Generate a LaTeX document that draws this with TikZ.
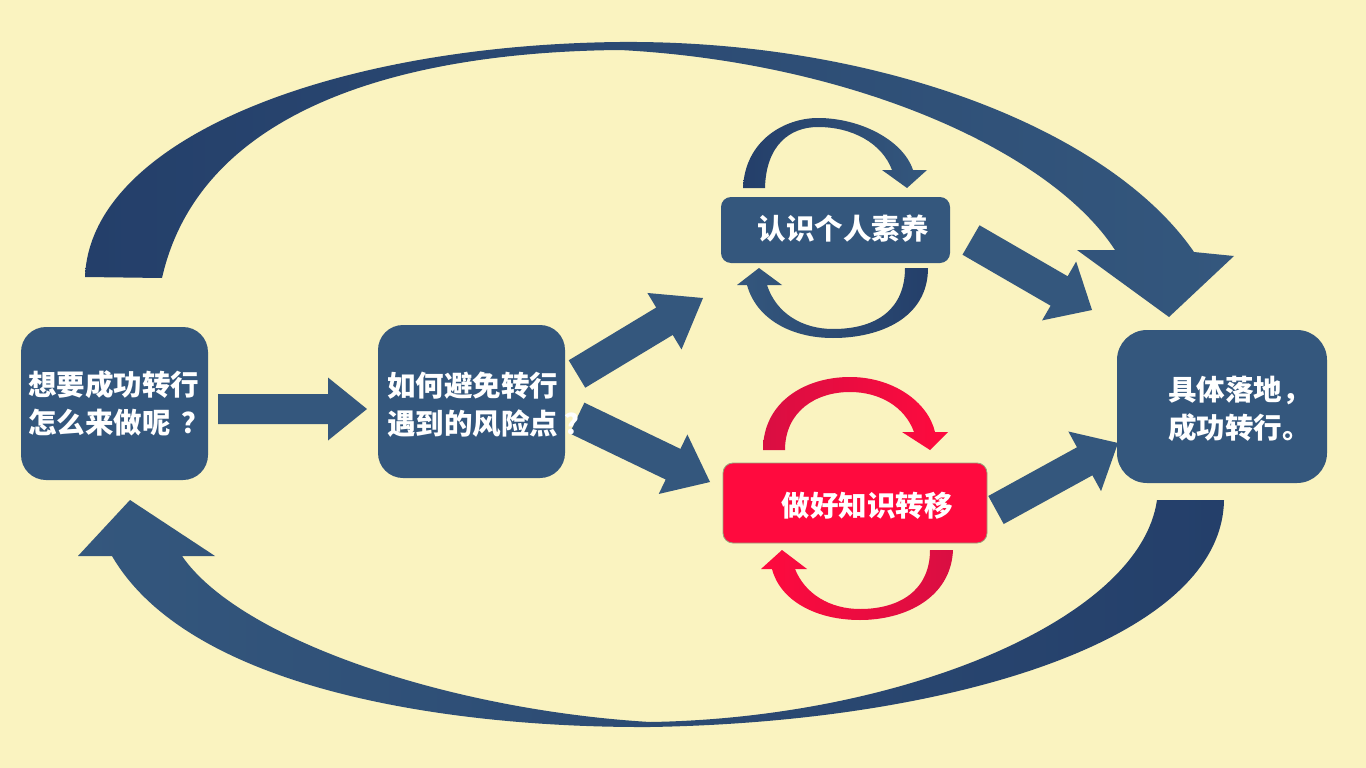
\documentclass[tikz,border=0pt]{standalone}
\usepackage{fontspec}
\newfontfamily\cjk{Noto Sans CJK SC}
\usetikzlibrary{calc}
\definecolor{bg}{HTML}{FAF3C0}
\definecolor{nodeblue}{HTML}{34577D}
\definecolor{arcdark}{HTML}{243F6A}
\definecolor{hotred}{HTML}{FF0A3E}
\definecolor{deepred}{HTML}{D90E42}
\definecolor{redborder}{HTML}{9AA27A}
\newcommand\blockarrow[6]{%
  \coordinate (ba-b) at ($(#3)!#6!(#2)$);
  \fill[#1] ($(#2)!#4!90:(#3)$) -- ($(ba-b)!#4!-90:(#2)$) -- ($(ba-b)!#5!-90:(#2)$)
    -- (#3) -- ($(ba-b)!#5!90:(#2)$) -- ($(ba-b)!#4!90:(#2)$) -- ($(#2)!#4!-90:(#3)$) -- cycle;}
\tikzset{
  box/.style={fill=nodeblue, rounded corners=#1, inner sep=0pt, outer sep=0pt},
  redbox/.style={fill=hotred, draw=redborder, line width=0.8pt, rounded corners=10pt, inner sep=0pt, outer sep=0pt},
  txt/.style={text=white, font=\cjk\bfseries\fontsize{28.5}{38}\selectfont, inner sep=0pt, align=left},
  flow/.style={fill=nodeblue}
}
\begin{document}
\begin{tikzpicture}[x=1pt,y=-1pt]
\useasboundingbox (0,0) rectangle (1366,768);
\fill[bg] (0,0) rectangle (1366,768);

% big top arc
\shade[left color=arcdark, right color=nodeblue]
  (85,277) .. controls (90,140) and (330,45) .. (620,42)
  .. controls (880,40) and (1110,130) .. (1194,252)
  -- (1234,256) -- (1169,317) -- (1077,250) -- (1115,250)
  .. controls (1050,150) and (850,62) .. (620,50)
  .. controls (400,52) and (200,110) .. (162,278) -- cycle;
% big bottom arc
\shade[left color=nodeblue, right color=arcdark]
  (1157,500) .. controls (1140,620) and (900,718) .. (650,722)
  .. controls (450,710) and (240,640) .. (182,556)
  -- (215,556) -- (130,500) -- (78,556) -- (112,556)
  .. controls (190,690) and (450,728) .. (650,727)
  .. controls (950,722) and (1222,640) .. (1224,500) -- cycle;

% small blue loops around C
\shade[left color=arcdark, right color=nodeblue]
  (743,188) .. controls (745,140) and (785,118) .. (818,118)
  .. controls (860,118) and (903,140) .. (913,170)
  -- (927,170) -- (907,188) -- (882,170) -- (892,170)
  .. controls (882,143) and (852,127) .. (818,127)
  .. controls (790,127) and (766,145) .. (765,188) -- cycle;
\shade[left color=nodeblue, right color=arcdark]
  (928,268) .. controls (928,318) and (880,338) .. (833,338)
  .. controls (790,338) and (756,318) .. (747,285)
  -- (737,285) -- (759,268) -- (782,285) -- (767,285)
  .. controls (776,313) and (802,329) .. (833,329)
  .. controls (878,329) and (905,308) .. (905,268) -- cycle;

% red loops around D
\shade[left color=deepred, right color=hotred]
  (763,450) .. controls (763,402) and (805,377) .. (850,377)
  .. controls (893,377) and (928,402) .. (935,432)
  -- (948,432) -- (930,450) -- (902,432) -- (914,432)
  .. controls (905,407) and (880,392) .. (850,392)
  .. controls (815,392) and (785,412) .. (785,450) -- cycle;
\shade[left color=hotred, right color=deepred]
  (953,550) .. controls (951,598) and (905,620) .. (860,620)
  .. controls (815,620) and (780,600) .. (772,569)
  -- (761,569) -- (782,550) -- (807,569) -- (795,569)
  .. controls (805,594) and (830,609) .. (860,609)
  .. controls (900,609) and (930,590) .. (930,550) -- cycle;

% boxes
\node[box=25pt, minimum width=187pt, minimum height=153pt] (A) at (114.5,403.5) {};
\node[box=25pt, minimum width=187pt, minimum height=153pt] (B) at (471.5,401.5) {};
\node[box=10pt, minimum width=229pt, minimum height=66pt] (C) at (835.5,230) {};
\node[redbox, minimum width=264pt, minimum height=80pt] (D) at (855,503) {};
\node[box=30pt, minimum width=210pt, minimum height=153pt] (E) at (1222,406.5) {};

% connector end points
\coordinate (ab-s) at ($(A.east)+(10,5.5)$);
\coordinate (ab-t) at ($(B.west)+(-11,7.5)$);
\coordinate (bc-s) at ($(B.east)+(12,-27.5)$);
\coordinate (bc-t) at ($(C.south west)+(-18,35)$);
\coordinate (bd-s) at ($(B.east)+(12,16.5)$);
\coordinate (bd-t) at ($(D.west)+(-13,-21)$);
\coordinate (ce-s) at ($(C.east)+(21,10)$);
\coordinate (ce-t) at ($(E.north west)+(-25,-20)$);
\coordinate (de-s) at ($(D.east)+(9,7)$);
\coordinate (de-t) at ($(E.west)+(1,36.5)$);

\blockarrow{flow}{ab-s}{ab-t}{15pt}{31.5pt}{39pt}
\blockarrow{flow}{bc-s}{bc-t}{16pt}{33pt}{45pt}
\blockarrow{flow}{bd-s}{bd-t}{17pt}{33pt}{41pt}
\blockarrow{flow}{ce-s}{ce-t}{17pt}{34pt}{38pt}
\blockarrow{flow}{de-s}{de-t}{16pt}{34pt}{38pt}

% texts
\node[txt, anchor=west] (At) at (28,403) {想要成功转行\\怎么来做呢\kern11pt？};
\node[txt, anchor=west] (Bt) at (387,404.5) {如何避免转行\\遇到的风险点\kern6pt？};
\node[txt] (Ct) at (843,228.5) {认识个人素养};
\node[txt] (Dt) at (867,506) {做好知识转移};
\node[txt, anchor=west] (Et) at (1168,409) {具体落地，\\成功转行。};
\end{tikzpicture}
\end{document}
